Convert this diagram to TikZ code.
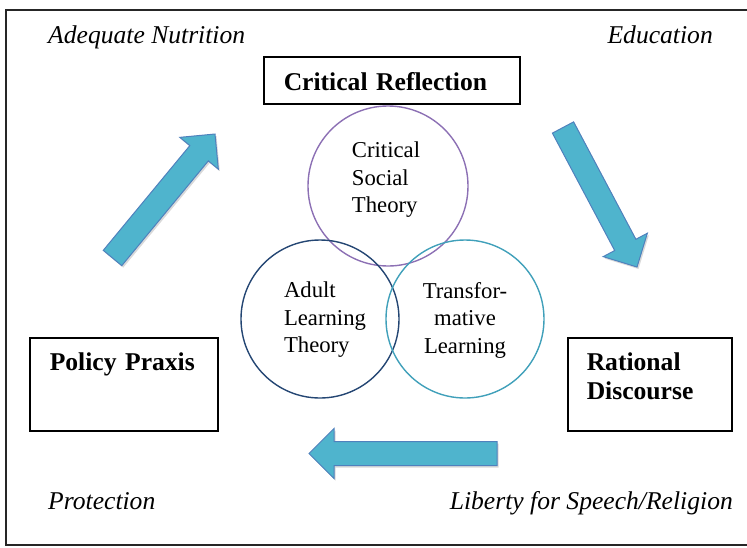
\documentclass[tikz,border=0pt]{standalone}
\usepackage{fontspec}
\setmainfont{Liberation Serif}
\usetikzlibrary{calc, shadows}

\definecolor{socialpurple}{RGB}{140,112,180}
\definecolor{adultblue}{RGB}{36,70,115}
\definecolor{transteal}{RGB}{64,160,186}
\definecolor{arrowfill}{RGB}{79,180,205}
\definecolor{arrowline}{RGB}{79,129,189}

\newcommand{\headfont}{\fontsize{25.6}{29}\selectfont\bfseries}
\newcommand{\cornerfont}{\fontsize{25.6}{29}\selectfont\itshape}
\newcommand{\theoryfont}{\fontsize{22.7}{27.5}\selectfont}

\tikzset{
  conceptbox/.style={draw, line width=1.5pt, anchor=north west, inner xsep=20pt, inner ysep=0pt, align=left, font=\headfont},
  theorycircle/.style={circle, line width=1.4pt, minimum size=#1, inner sep=0pt},
  theorytext/.style={font=\theoryfont, inner sep=0pt},
  cornertext/.style={font=\cornerfont, inner sep=0pt},
  praxisarrow/.style={draw=arrowline, fill=arrowfill, line width=1pt, line join=miter,
    drop shadow={shadow xshift=1.5pt, shadow yshift=-2pt, opacity=0.3}},
}

\newcommand{\blockarrow}[2]{%
  \path ($(#2)!25pt!(#1)$) coordinate (hb);
  \draw[praxisarrow] ($(#1)!12pt!90:(#2)$) -- ($(hb)!12pt!90:(#2)$) -- ($(hb)!25pt!90:(#2)$) -- (#2)
    -- ($(hb)!25pt!-90:(#2)$) -- ($(hb)!12pt!-90:(#2)$) -- ($(#1)!12pt!-90:(#2)$) -- cycle;}

\begin{document}
\begin{tikzpicture}[x=1pt, y=-1pt]
  \useasboundingbox (0,0) rectangle (747,547);
  \draw[line width=1.6pt, black!85] (747,10) -- (6,10) -- (6,545) -- (747,545);

  \node[cornertext, anchor=base west] (nutrition) at (48,43) {Adequate Nutrition};
  \node[cornertext, anchor=base east] (education) at (713,43) {Education};
  \node[cornertext, anchor=base west] (protection) at (48,509) {Protection};
  \node[cornertext, anchor=base east] (liberty) at (733,509) {Liberty for Speech/Religion};

  \node[conceptbox, text width=216pt, text height=34pt, text depth=13pt] (reflection) at (263,56) {Critical Reflection};
  \node[conceptbox, text width=148pt, text height=33pt, text depth=60pt] (policy) at (29,337) {Policy Praxis};
  \node[conceptbox, inner xsep=19pt, text width=126pt, text height=33pt, text depth=60pt] (discourse) at (567,337) {Rational\\Discourse};

  \node[theorycircle=160pt, draw=socialpurple] (social) at (388,186) {};
  \node[theorycircle=158pt, draw=adultblue] (adult) at (320,319) {};
  \node[theorycircle=158pt, draw=transteal] (transform) at (465,319) {};

  \node[theorytext, align=left] (social-text) at (386,180) {Critical\\Social\\Theory};
  \node[theorytext, align=left] (adult-text) at (325,320) {Adult\\Learning\\Theory};
  \node[theorytext, align=center] (transform-text) at (465,320) {Transfor-\\mative\\Learning};

  \coordinate (praxis-tail) at (112.5,258);
  \coordinate (praxis-tip) at (215,134);
  \coordinate (reflection-tail) at (563,127.5);
  \coordinate (reflection-tip) at (637,267);
  \coordinate (discourse-tail) at (497,453.5);
  \coordinate (discourse-tip) at (309,453.5);
  \blockarrow{praxis-tail}{praxis-tip}
  \blockarrow{reflection-tail}{reflection-tip}
  \blockarrow{discourse-tail}{discourse-tip}
\end{tikzpicture}
\end{document}
